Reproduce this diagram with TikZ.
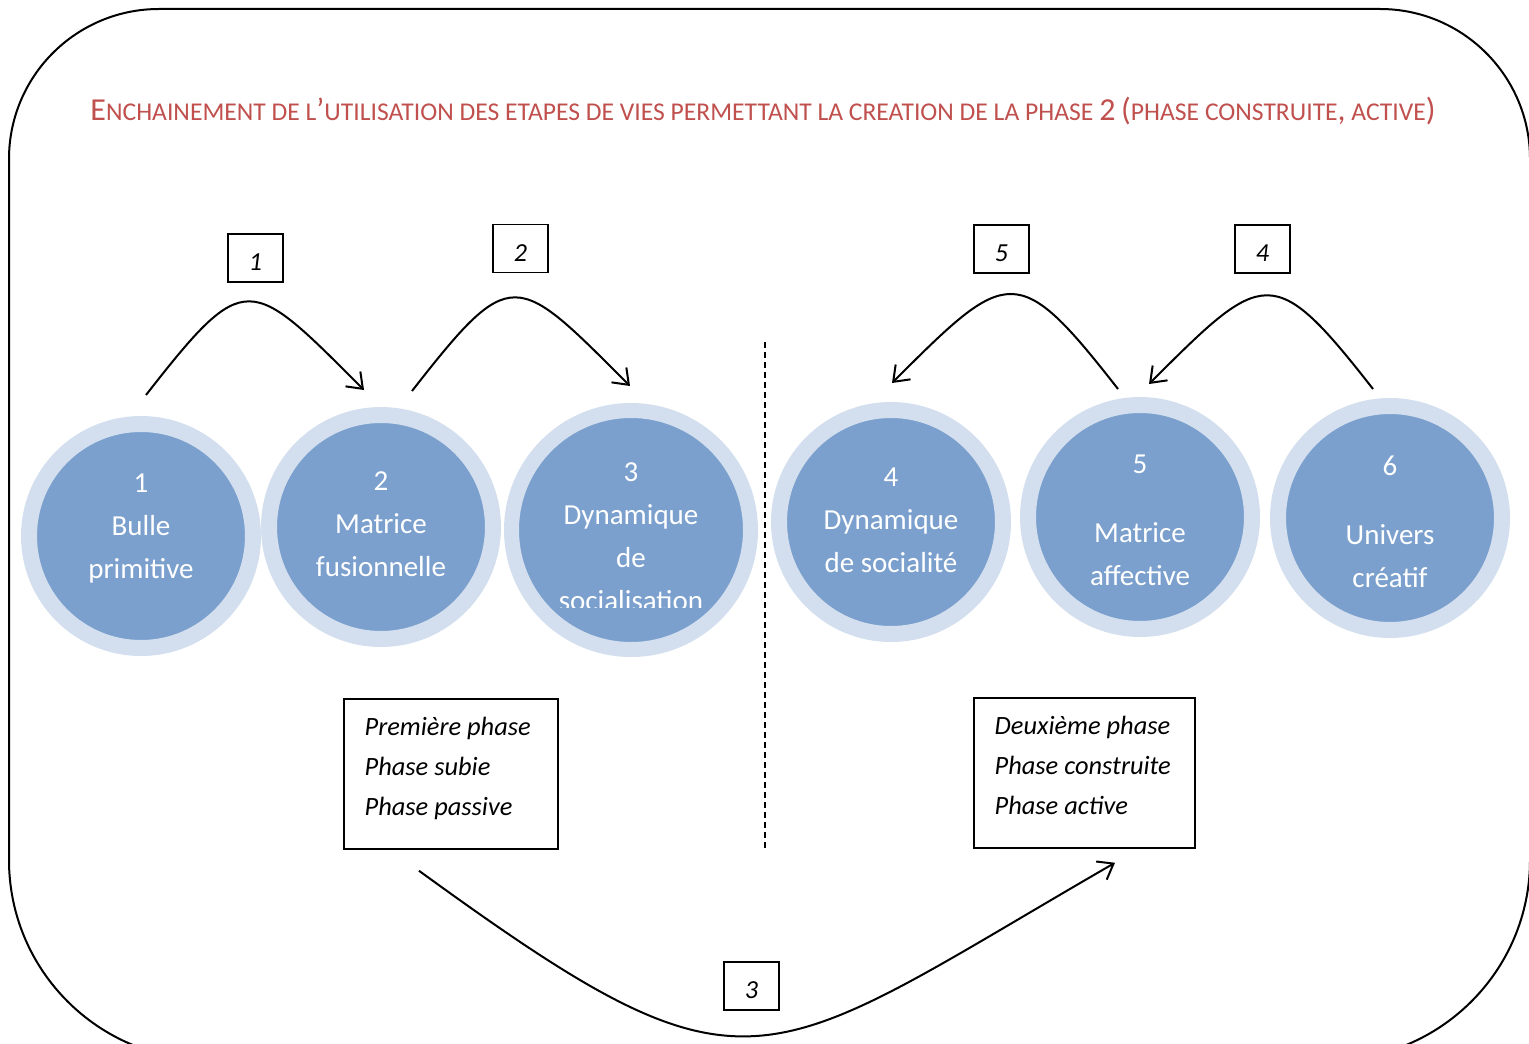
\documentclass[tikz,border=0pt]{standalone}
\usepackage{fontspec}
\setmainfont{Carlito}
\usetikzlibrary{arrows.meta,positioning}
\definecolor{StageBlue}{RGB}{123,160,205}
\definecolor{RingBlue}{RGB}{211,223,238}
\definecolor{TitleRed}{RGB}{192,80,77}
\newcommand\capbig[1]{{\fontsize{16pt}{18pt}\selectfont #1}}
\tikzset{stage/.style ={
        circle,
        fill=StageBlue,
        draw=RingBlue,
        line width=8pt,
        minimum size=112pt,
        inner sep=0pt
    },
    stagetxt/.style ={
        text=white,
        align=center,
        font=\fontsize{14.5pt}{21.5pt}\selectfont
    },
    numbox/.style ={
        draw,
        line width=0.75pt,
        minimum width=27.5pt,
        minimum height=24pt,
        inner sep=0pt,
        text height=12.5pt,
        text depth=0pt,
        font=\fontsize{13pt}{15pt}\selectfont\itshape
    },
    phasebox/.style ={
        draw,
        line width=0.75pt,
        minimum height=75pt
    },
    phasetxt/.style ={
        inner sep=0pt,
        align=left,
        font=\fontsize{13.2pt}{20pt}\selectfont\itshape
    }}

\begin{document}
\begin{tikzpicture}
    [
    x=0.5pt, y=0.5pt,
    frame/.style={
        draw,
        line width=1pt
    },
    hop/.style={
        -{Straight Barb[length=7pt,width=10.5pt]},
        draw,
        line width=1pt
    },
    divider/.style={
        draw,
        line width=1pt,
        dash pattern=on 3pt off 2pt
    }
    ]
    \useasboundingbox (0,0) rectangle (1529,-1043);
    \draw[frame] (9,-860) -- (9,-159) arc[start angle=180,end angle=90,radius=150]
        -- (1380,-9) arc[start angle=90,end angle=0,radius=150]
        -- (1530,-860) arc[start angle=0,end angle=-90,radius=200]
        -- (209,-1060) arc[start angle=270,end angle=180,radius=200] -- cycle;

    \node (title)[anchor=base,text=TitleRed,font=\fontsize{12.8pt}{15pt}\selectfont] at (763,-121)
        {\capbig{E}NCHAINEMENT DE L\capbig{’}UTILISATION DES ETAPES DE VIES PERMETTANT LA CREATION DE LA PHASE \capbig{2} \capbig{(}PHASE CONSTRUITE\capbig{,} ACTIVE\capbig{)}};

    \node (c1)[stage] at (141,-536) {};
    \node (c2)[stage] at (381,-527) {};
    \node (c3)[stage,line width=7.5pt,minimum size=119.5pt] at (631,-530) {};
    \node (c4)[stage] at (891,-522) {};
    \node (c5)[stage] at (1140,-517) {};
    \node (c6)[stage] at (1390,-518) {};

    \node (t1)[stagetxt] at (141,-528) {1\\Bulle\\primitive};
    \node (t2)[stagetxt] at (381,-524) {2\\Matrice\\fusionnelle};
    \begin{scope}
        \clip (500,-400) rectangle (760,-607);
        \node (t3)[stagetxt] at (631,-537) {3\\Dynamique\\de\\socialisation};
    \end{scope}
    \node (t4)[stagetxt] at (891,-520) {4\\Dynamique\\de socialité};
    \node (t5)[stagetxt] at (1140,-520) {5\\[13pt]Matrice\\affective};
    \node (t6)[stagetxt] at (1390,-522) {6\\[13pt]Univers\\créatif};

    \node (n1)[numbox] at (255.5,-258) {1};
    \node (n2)[numbox] at (520.5,-248.5) {2};
    \node (n5)[numbox] at (1001.5,-249) {5};
    \node (n4)[numbox] at (1262.5,-249) {4};
    \node (n3)[numbox] at (751.5,-986) {3};

    \node (ph1)[phasebox,minimum width=107pt] at (451,-774) {};
    \node (ph1t)[phasetxt,below right=9.5pt and 10.5pt of ph1.north west]
        {Première phase\\Phase subie\\Phase passive};
    \node (ph2)[phasebox,minimum width=110.5pt] at (1084.5,-773) {};
    \node (ph2t)[phasetxt,below right=9.5pt and 10.5pt of ph2.north west]
        {Deuxième phase\\Phase construite\\Phase active};

    \coordinate (dtop) at (765,-342);
    \coordinate (dbot) at (765,-850);
    \draw[divider] (dtop) -- (dbot);

    \draw[hop] ([shift={(2.5pt,10.5pt)}]c1.north) to[out=52,in=135,looseness=1.9] ([shift={(-8.5pt,8.5pt)}]c2.north);
    \draw[hop] ([shift={(15.5pt,8pt)}]c2.north) to[out=52,in=135,looseness=1.9] ([shift={(-0.5pt,8.5pt)}]c3.north);
    \draw[hop] ([shift={(-11pt,4pt)}]c5.north) to[out=128,in=45,looseness=1.85] ([shift={(0.5pt,9.5pt)}]c4.north);
    \draw[hop] ([shift={(-8.5pt,4.5pt)}]c6.north) to[out=128,in=45,looseness=1.85] ([shift={(4.5pt,6.5pt)}]c5.north);
    \draw[hop] ([shift={(-16pt,-10.5pt)}]ph1.south) to[out=-36,in=-150,looseness=1.52] ([shift={(15.25pt,-7pt)}]ph2.south);
\end{tikzpicture}
\end{document}
